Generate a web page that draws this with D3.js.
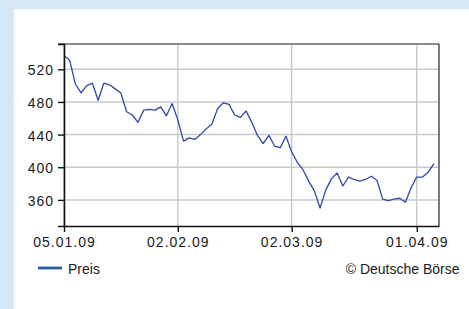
<!DOCTYPE html>
<html><head><meta charset="utf-8">
<script src="https://cdn.jsdelivr.net/npm/d3@7"></script>
<style>
html,body{margin:0;padding:0;background:#d5e6f5;}
svg{display:block;}
text{font-family:"Liberation Sans",Arial,sans-serif;fill:#1a1a1a;}
</style></head>
<body>
<svg id="c" width="469" height="309"></svg>
<script>
// Daily closing prices (trading days from 05.01.09)
const prices = [537,531,502,491,500,503,482,503,501,496,491,468,464,455,470,471,470,474,463,478,
  458,432,436,434,440,447,453,472,479,477,464,461,469,455,439,429,439,426,424,438,
  419,406,397,383,371,350,372,386,393,377,388,385,383,385,389,384,361,359,361,362,
  357,375,388,388,394,404];
const xTickIdx = [0,20,40,62];
const xTickLabels = ["05.01.09","02.02.09","02.03.09","01.04.09"];
const yTicks = [360,400,440,480,520];
const seriesName = "Preis";
const credit = "© Deutsche Börse";

const svg = d3.select("#c");
svg.append("rect").attr("x",14).attr("y",9).attr("width",469-14).attr("height",309-9).attr("fill","#fff");

const L=64, R=439, T=44, B=226;
const x = d3.scaleLinear().domain([0,65.9]).range([L,R]);
const y = d3.scaleLinear().domain([328,551]).range([B,T]);

// grid
const g = svg.append("g");
g.selectAll("line.h").data(yTicks).join("line")
  .attr("x1",L).attr("x2",R).attr("y1",d=>y(d)).attr("y2",d=>y(d))
  .attr("stroke","#c6cacf").attr("stroke-width",1.5);
g.selectAll("line.v").data(xTickIdx).join("line")
  .attr("y1",T).attr("y2",B).attr("x1",d=>x(d)).attr("x2",d=>x(d))
  .attr("stroke","#c6cacf").attr("stroke-width",1.5);

// frame top/right
svg.append("line").attr("x1",58).attr("x2",R).attr("y1",T).attr("y2",T).attr("stroke","#666").attr("stroke-width",1.3);
svg.append("line").attr("x1",R).attr("x2",R).attr("y1",T).attr("y2",B).attr("stroke","#333").attr("stroke-width",1.3);

// line
const line = d3.line().x((d,i)=>x(i)).y(d=>y(d));
svg.append("path").datum(prices).attr("d",line).attr("fill","none")
  .attr("stroke","#3347a6").attr("stroke-width",1.3).attr("stroke-linejoin","round");

// axes
const ya = svg.append("g").attr("transform",`translate(${L},0)`)
  .call(d3.axisLeft(y).tickValues(yTicks).tickSize(6).tickSizeOuter(6).tickPadding(4));
const xa = svg.append("g").attr("transform",`translate(0,${B})`)
  .call(d3.axisBottom(x).tickValues(xTickIdx).tickFormat((d,i)=>xTickLabels[i]).tickSize(6).tickSizeOuter(0).tickPadding(5));
[ya,xa].forEach(a=>{
  a.select(".domain").attr("stroke","#111").attr("stroke-width",1.6);
  a.selectAll(".tick line").attr("stroke","#111").attr("stroke-width",1.4);
  a.selectAll("text").attr("font-size",14).attr("fill","#1a1a1a").style("letter-spacing","1px")
   .attr("font-family","Liberation Sans, Arial, sans-serif");
});
ya.selectAll("text").attr("dy","0.4em");

// legend
svg.append("line").attr("x1",38).attr("x2",62).attr("y1",268).attr("y2",268)
  .attr("stroke","#2d5aa8").attr("stroke-width",2.8);
svg.append("text").attr("x",68).attr("y",273.5).attr("font-size",14).text(seriesName);
svg.append("text").attr("x",459.5).attr("y",273.5).attr("font-size",14).attr("text-anchor","end").text(credit);
</script>
</body></html>
